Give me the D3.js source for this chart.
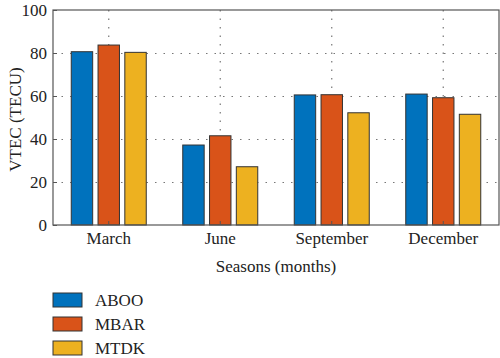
<!DOCTYPE html>
<html><head><meta charset="utf-8">
<script src="https://cdn.jsdelivr.net/npm/d3@7"></script>
<style>body{margin:0;background:#fff}</style>
</head><body><svg id="c" width="500" height="358"></svg>
<script>
const categories = ["March","June","September","December"];
const seriesNames = ["ABOO","MBAR","MTDK"];
const aboo = [80.6, 37.2, 60.5, 60.9];
const mbar = [83.7, 41.5, 60.6, 59.2];
const mtdk = [80.3, 27.1, 52.2, 51.5];
const yTicks = [0,20,40,60,80,100];
const colors = ["#0072BD","#D95319","#EDB120"];
const series = [aboo, mbar, mtdk];
const FONT = '"Liberation Serif"';
const FS = "17px";

const svg = d3.select("#c");
const L=53,R=499,T=10,B=225;
const x = d3.scaleBand().domain(categories).range([L,R]);
const inner = d3.scaleBand().domain(seriesNames).range([-37.5,37.5]).paddingInner(0.2);
const y = d3.scaleLinear().domain([0,100]).range([B,T]);

// grid
const g = svg.append("g");
g.selectAll("line.hg").data(yTicks.slice(1,-1)).join("line")
 .attr("x1",L).attr("x2",R).attr("y1",d=>y(d)+0.5).attr("y2",d=>y(d)+0.5)
 .attr("stroke","#777").attr("stroke-width",1.2).attr("stroke-dasharray","1.5,7");
g.selectAll("line.vg").data(categories).join("line")
 .attr("x1",d=>x(d)+x.bandwidth()/2).attr("x2",d=>x(d)+x.bandwidth()/2).attr("y1",T).attr("y2",B)
 .attr("stroke","#777").attr("stroke-width",1.2).attr("stroke-dasharray","1.5,7");

// bars
series.forEach((s,i)=>{
  svg.append("g").selectAll("rect").data(s).join("rect")
   .attr("x",(d,j)=>x(categories[j])+x.bandwidth()/2+inner(seriesNames[i]))
   .attr("width",inner.bandwidth())
   .attr("y",d=>y(d)).attr("height",d=>B-y(d))
   .attr("fill",colors[i]).attr("stroke","#333").attr("stroke-width",1);
});

// axes
const yAxis = d3.axisLeft(y).tickValues(yTicks).tickSize(-4).tickPadding(6);
const ya = svg.append("g").attr("transform",`translate(${L},0)`).call(yAxis);
const xAxis = d3.axisBottom(x).tickSize(-4).tickPadding(4);
const xa = svg.append("g").attr("transform",`translate(0,${B})`).call(xAxis);
[ya,xa].forEach(a=>{
  a.attr("font-family",null).attr("font-size",null);
  a.select(".domain").remove();
  a.selectAll(".tick line").attr("stroke","#555");
  a.selectAll("text").style("font-size",FS).style("font-family",FONT).attr("fill","#222");
});
xa.selectAll("text").attr("dy","0.9em");
ya.selectAll("text").attr("dy","0.35em");
// frame
svg.append("rect").attr("x",L).attr("y",T).attr("width",R-L).attr("height",B-T)
 .attr("fill","none").attr("stroke","#555").attr("stroke-width",1.2);

svg.append("text").attr("x",(L+R)/2).attr("y",272).attr("text-anchor","middle")
 .style("font-size",FS).style("font-family",FONT).attr("fill","#222").text("Seasons (months)");
svg.append("text").attr("transform",`translate(21,${(T+B)/2+2}) rotate(-90)`).attr("text-anchor","middle")
 .style("font-size",FS).style("font-family",FONT).attr("fill","#222").text("VTEC (TECU)");

// legend
const lg = svg.append("g");
seriesNames.forEach((n,i)=>{
  const yy = 293 + i*24;
  lg.append("rect").attr("x",53).attr("y",yy).attr("width",29).attr("height",14)
    .attr("fill",colors[i]).attr("stroke","#333").attr("stroke-width",1);
  lg.append("text").attr("x",95).attr("y",yy+12.5).style("font-size",FS).style("font-family",FONT)
    .attr("fill","#222").text(n);
});
</script></body></html>
